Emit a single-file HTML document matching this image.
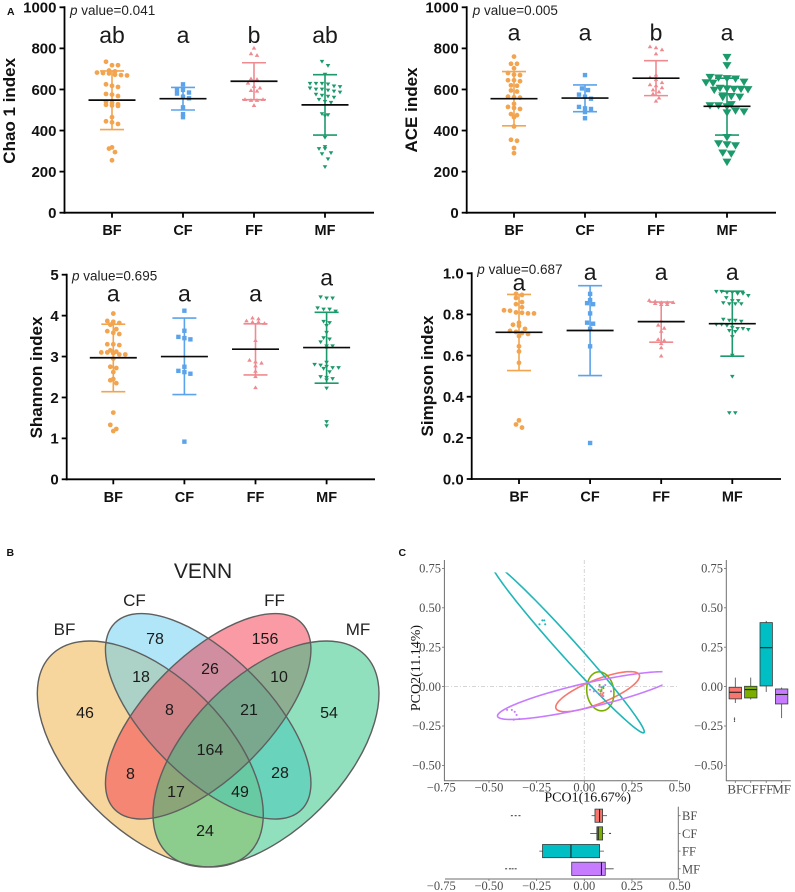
<!DOCTYPE html>
<html lang="en">
<head>
<meta charset="utf-8">
<title>Microbial diversity, Venn and PCoA figure</title>
<style>
html,body{margin:0;padding:0;background:#fff;}
svg{display:block;}
.sans{font-family:"Liberation Sans",sans-serif;}
.serif{font-family:"Liberation Serif",serif;}
</style>
</head>
<body>
<svg id="fig" width="795" height="892" viewBox="0 0 795 892" xmlns="http://www.w3.org/2000/svg">
  <rect width="795" height="892" fill="#fff"/>
  <text class="sans" x="7" y="15" font-size="10.5" font-weight="bold" fill="#111">A</text>
  <text class="sans" x="6.5" y="556" font-size="10.5" font-weight="bold" fill="#111">B</text>
  <text class="sans" x="398.5" y="556" font-size="10.5" font-weight="bold" fill="#111">C</text>

  <g id="alpha-panels"></g>

  <g id="venn">
    <text class="sans" x="203" y="578" font-size="21" text-anchor="middle" fill="#222">VENN</text>
    <g fill-opacity="0.5">
      <ellipse cx="150.3" cy="754" rx="140" ry="77" transform="rotate(45 150.3 754)" fill="#EDAD39"/>
      <ellipse cx="208.2" cy="716.3" rx="132" ry="60.7" transform="rotate(45 208.2 716.3)" fill="#61CDF1"/>
      <ellipse cx="208.2" cy="716.3" rx="132" ry="60.7" transform="rotate(-45 208.2 716.3)" fill="#F33549"/>
      <ellipse cx="266" cy="754" rx="140" ry="77" transform="rotate(-45 266 754)" fill="#21C17D"/>
    </g>
    <g fill="none" stroke="#5f5f5f" stroke-width="1.4">
      <ellipse cx="150.3" cy="754" rx="140" ry="77" transform="rotate(45 150.3 754)"/>
      <ellipse cx="208.2" cy="716.3" rx="132" ry="60.7" transform="rotate(45 208.2 716.3)"/>
      <ellipse cx="208.2" cy="716.3" rx="132" ry="60.7" transform="rotate(-45 208.2 716.3)"/>
      <ellipse cx="266" cy="754" rx="140" ry="77" transform="rotate(-45 266 754)"/>
    </g>
    <g class="sans" font-size="17" text-anchor="middle" fill="#222">
      <text x="134.5" y="606">CF</text>
      <text x="274.5" y="606">FF</text>
      <text x="64.5" y="635">BF</text>
      <text x="358" y="635">MF</text>
    </g>
    <g class="sans" font-size="16" text-anchor="middle" fill="#1a1a1a">
      <text x="155" y="644">78</text>
      <text x="265" y="644">156</text>
      <text x="85" y="718">46</text>
      <text x="141" y="682">18</text>
      <text x="210" y="674">26</text>
      <text x="279" y="682">10</text>
      <text x="329" y="718">54</text>
      <text x="169.5" y="715">8</text>
      <text x="249" y="715">21</text>
      <text x="210" y="755">164</text>
      <text x="130.5" y="779">8</text>
      <text x="280" y="778">28</text>
      <text x="176" y="797">17</text>
      <text x="240" y="797">49</text>
      <text x="205" y="836">24</text>
    </g>
  </g>

  <g id="pcoa"></g>
</svg>

<script>
/* ---------- Alpha-diversity data ---------- */
const categories = ['BF', 'CF', 'FF', 'MF'];

const chaoBF = [735,718,718,692,688,682,680,678,672,670,668,625,618,612,578,575,568,540,535,528,525,522,520,465,445,440,432,318,312,295,255];
const chaoCF = [625,600,598,585,580,565,557,513,480,465];
const chaoFF = [803,776,768,654,651,633,617,609,597,594,553,549,549,553,524];
const chaoMF = [735,715,672,628,628,628,625,615,612,605,600,600,595,590,585,575,570,565,560,550,540,535,480,475,470,365,320,310,310,290,285,260,222];
const chaoMeans = [548, 555, 640, 525];
const chaoLows = [405, 500, 550, 378];
const chaoHighs = [690, 610, 730, 672];
const chaoLetters = ['ab', 'a', 'b', 'ab'];
const chaoTicks = ['0', '200', '400', '600', '800', '1000'];

const aceBF = [760,725,725,703,680,672,670,645,645,640,620,618,595,590,565,562,560,530,515,510,505,480,475,465,420,355,350,315,290];
const aceCF = [670,605,597,575,565,555,515,508,505,490,460];
const aceFF = [810,805,795,775,672,660,650,635,625,620,610,600,590,580,560,545];
const aceMF = [755,715,658,655,652,650,635,632,630,605,602,600,600,598,595,568,565,562,560,525,520,520,515,495,490,485,365,335,330,325,290,285,245];
const aceMeans = [555, 558, 655, 518];
const aceLows = [423, 492, 570, 378];
const aceHighs = [687, 622, 740, 655];
const aceLetters = ['a', 'a', 'b', 'a'];
const aceTicks = ['0', '200', '400', '600', '800', '1000'];

const shannonBF = [4.05,3.87,3.85,3.82,3.78,3.67,3.62,3.58,3.55,3.3,3.3,3.28,3.15,3.12,3.1,3.1,3.08,3.05,3.05,2.95,2.75,2.72,2.62,2.45,2.42,2.35,1.63,1.33,1.23,1.18];
const shannonCF = [4.12,3.63,3.48,3.45,3.42,2.75,2.65,2.62,2.58,0.92];
const shannonFF = [3.95,3.93,3.88,3.85,3.85,3.82,3.4,2.92,2.88,2.85,2.78,2.65,2.52,2.25];
const shannonMF = [4.45,4.42,4.42,4.18,4.15,4.15,4.1,3.85,3.82,3.75,3.58,3.45,3.42,3.35,3.25,3.25,3.2,2.85,2.8,2.78,2.75,2.72,2.72,2.7,2.62,2.5,2.48,2.45,2.42,2.22,1.4,1.3];
const shannonMeans = [2.97, 3.0, 3.18, 3.22];
const shannonLows = [2.14, 2.07, 2.55, 2.35];
const shannonHighs = [3.79, 3.94, 3.8, 4.08];
const shannonLetters = ['a', 'a', 'a', 'a'];
const shannonTicks = ['0', '1', '2', '3', '4', '5'];

const simpsonBF = [0.9,0.895,0.88,0.86,0.85,0.835,0.82,0.818,0.81,0.808,0.805,0.805,0.76,0.75,0.745,0.73,0.72,0.715,0.71,0.705,0.695,0.645,0.62,0.565,0.285,0.265,0.25];
const simpsonCF = [0.9,0.87,0.855,0.85,0.805,0.76,0.755,0.73,0.645,0.175];
const simpsonFF = [0.87,0.865,0.86,0.86,0.86,0.855,0.85,0.85,0.77,0.75,0.735,0.72,0.68,0.675,0.66,0.64,0.6];
const simpsonMF = [0.91,0.91,0.905,0.905,0.9,0.9,0.89,0.88,0.865,0.865,0.855,0.85,0.85,0.85,0.775,0.77,0.77,0.765,0.75,0.75,0.745,0.735,0.73,0.73,0.725,0.72,0.715,0.69,0.6,0.497,0.32,0.32];
const simpsonMeans = [0.713, 0.722, 0.765, 0.755];
const simpsonLows = [0.527, 0.503, 0.665, 0.597];
const simpsonHighs = [0.897, 0.94, 0.86, 0.913];
const simpsonLetters = ['a', 'a', 'a', 'a'];
const simpsonTicks = ['0.0', '0.2', '0.4', '0.6', '0.8', '1.0'];

/* ---------- PCoA data (data units) ---------- */
const pcoGroups = ['BF', 'CF', 'FF', 'MF'];
const pcoXTicks = ['\u22120.75', '\u22120.50', '\u22120.25', '0.00', '0.25', '0.50'];
const pcoXTickValues = [-0.75, -0.5, -0.25, 0, 0.25, 0.5];
const pcoYTicks = ['\u22120.50', '\u22120.25', '0.00', '0.25', '0.50', '0.75'];
const pcoYTickValues = [-0.5, -0.25, 0, 0.25, 0.5, 0.75];

/* ellipses: centre, major semi-axis vector, minor semi-axis vector */
const ellipseCenterX = [0.07, 0.084, -0.087, 0.012];
const ellipseCenterY = [-0.032, -0.03, 0.246, -0.057];
const ellipseMajorX = [0.2185, 0.014, 0.4, 0.467];
const ellipseMajorY = [0.106, -0.123, -0.538, 0.131];
const ellipseMinorX = [0.0227, 0.07, 0.035, 0.014];
const ellipseMinorY = [-0.07, 0.0127, 0.038, -0.076];

const scoresBFx = [0.09,0.095,0.085,0.1,0.09];
const scoresBFy = [-0.03,-0.05,-0.045,-0.04,-0.06];
const scoresCFx = [0.08,0.09,0.1,0.085,0.075];
const scoresCFy = [0.01,-0.005,-0.01,-0.03,-0.02];
const scoresFFx = [-0.235,-0.22,-0.21,-0.205,0.09,0.1];
const scoresFFy = [0.395,0.42,0.42,0.395,-0.02,0.0];
const scoresMFx = [-0.405,-0.38,-0.365,-0.355,-0.37,-0.34,0.03,0.05,0.08,0.11,0.14,0.1,0.07];
const scoresMFy = [-0.148,-0.148,-0.16,-0.18,-0.21,-0.205,-0.02,-0.03,0.0,0.01,-0.03,-0.06,-0.04];

/* box plot on PCO2 (right) */
const pco2Q1 = [-0.078, -0.072, 0.004, -0.11];
const pco2Median = [-0.036, -0.019, 0.247, -0.05];
const pco2Q3 = [-0.004, 0.002, 0.406, -0.015];
const pco2WhiskerLow = [-0.104, -0.082, -0.034, -0.2];
const pco2WhiskerHigh = [0.057, 0.057, 0.417, -0.006];
const pco2Outliers = [[-0.2, -0.21, -0.22], [], [], []];

/* box plot on PCO1 (bottom) */
const pco1Q1 = [0.056, 0.066, -0.219, -0.066];
const pco1Median = [0.08, 0.073, -0.07, 0.09];
const pco1Q3 = [0.096, 0.096, 0.08, 0.11];
const pco1WhiskerLow = [0.038, 0.031, -0.236, -0.066];
const pco1WhiskerHigh = [0.119, 0.107, 0.103, 0.154];
const pco1Outliers = [[-0.38, -0.36, -0.34], [0.135], [], [-0.41, -0.39, -0.376, -0.36]];

/* ---------- helpers ---------- */
const NS = 'http://www.w3.org/2000/svg';
function mk(parent, tag, attrs, name) {
  const el = document.createElementNS(NS, tag);
  for (const k in attrs) el.setAttribute(k, attrs[k]);
  
  
  parent.appendChild(el);
  return el;
}
function label(parent, x, y, str, attrs, name) {
  const el = mk(parent, 'text', Object.assign({ x: x, y: y }, attrs), name);
  el.textContent = str;
  return el;
}
function ln(parent, x1, y1, x2, y2, stroke, w, name) {
  return mk(parent, 'line', { x1: x1, y1: y1, x2: x2, y2: y2, stroke: stroke, 'stroke-width': w }, name);
}

const seriesColors = ['#F2A44F', '#5BA3EA', '#EE8B91', '#1D9A6C'];

function marker(parent, kind, x, y, s, color, name) {
  if (kind === 0) return mk(parent, 'circle', { cx: x, cy: y, r: s * 0.52, fill: color }, name);
  if (kind === 1) return mk(parent, 'rect', { x: x - s * 0.5, y: y - s * 0.5, width: s, height: s, fill: color }, name);
  const h = s * 0.82;
  const d = kind === 2 ? 1 : -1;
  const pts = (x - s / 2) + ',' + (y + d * h / 2) + ' ' + (x + s / 2) + ',' + (y + d * h / 2) + ' ' + x + ',' + (y - d * h / 2);
  return mk(parent, 'polygon', { points: pts, fill: color }, name);
}

/* Swarm layout: points falling in the same vertical bin spread symmetrically. */
function swarm(values, yOf, binH, sp, maxSpread) {
  const bins = {};
  const offsets = new Array(values.length);
  values.forEach(function (v, i) {
    const b = Math.floor(yOf(v) / binH);
    (bins[b] = bins[b] || []).push(i);
  });
  Object.keys(bins).forEach(function (b) {
    const ids = bins[b];
    const n = ids.length;
    const step = n > 1 ? Math.min(sp, 2 * maxSpread / (n - 1)) : 0;
    ids.forEach(function (id, k) {
      offsets[id] = (k - (n - 1) / 2) * step;
    });
  });
  return offsets;
}

/* ---------- alpha-diversity panels ---------- */
const panels = [
  { key: 'chao', title: 'Chao 1 index', p: '0.041', series: [chaoBF, chaoCF, chaoFF, chaoMF], means: chaoMeans, lows: chaoLows, highs: chaoHighs, letters: chaoLetters, ticks: chaoTicks,
    maxV: 1000, ax: 64.5, y0: 212.7, yTop: 7.3, xEnd: 374, cx0: 112, dx: 71, titleX: 15, titleY: 110.8, pX: 70, pY: 15, letterY: [43, 43, 43, 43], sizes: [4.6, 4.4, 4.6, 4.6] },
  { key: 'ace', title: 'ACE index', p: '0.005', series: [aceBF, aceCF, aceFF, aceMF], means: aceMeans, lows: aceLows, highs: aceHighs, letters: aceLetters, ticks: aceTicks,
    maxV: 1000, ax: 466.7, y0: 212.7, yTop: 7.3, xEnd: 776, cx0: 514, dx: 71, titleX: 417, titleY: 110, pX: 472.7, pY: 15, letterY: [40.7, 40.7, 40.7, 40.7], sizes: [4.6, 4.4, 4.6, 9] },
  { key: 'shannon', title: 'Shannon index', p: '0.695', series: [shannonBF, shannonCF, shannonFF, shannonMF], means: shannonMeans, lows: shannonLows, highs: shannonHighs, letters: shannonLetters, ticks: shannonTicks,
    maxV: 5, ax: 66.7, y0: 479.3, yTop: 274.7, xEnd: 375, cx0: 113.3, dx: 71.1, titleX: 42, titleY: 377.5, pX: 72, pY: 280.7, letterY: [301.7, 301.7, 301.7, 285.7], sizes: [4.6, 4.4, 4.6, 4.6] },
  { key: 'simpson', title: 'Simpson index', p: '0.687', series: [simpsonBF, simpsonCF, simpsonFF, simpsonMF], means: simpsonMeans, lows: simpsonLows, highs: simpsonHighs, letters: simpsonLetters, ticks: simpsonTicks,
    maxV: 1, ax: 471.7, y0: 479, yTop: 273.3, xEnd: 781, cx0: 519, dx: 71.1, titleX: 433, titleY: 376, pX: 477.3, pY: 274, letterY: [290.7, 280, 280, 280], sizes: [4.6, 4.4, 4.6, 4.6] }
];

const alphaRoot = document.getElementById('alpha-panels');
panels.forEach(function (P) {
  const g = mk(alphaRoot, 'g', {}, P.key + '-panel');
  const yOf = function (v) { return P.y0 - (v / P.maxV) * (P.y0 - P.yTop); };
  const xOf = function (i) { return P.cx0 + i * P.dx; };

  /* series */
  P.series.forEach(function (vals, i) {
    const color = seriesColors[i];
    const s = mk(g, 'g', {}, P.key + '-series-' + categories[i].toLowerCase());
    const x = xOf(i);
    ln(s, x, yOf(P.lows[i]), x, yOf(P.highs[i]), color, 1.6, 'error-bar');
    ln(s, x - 12, yOf(P.lows[i]), x + 12, yOf(P.lows[i]), color, 1.6, 'error-cap-low');
    ln(s, x - 12, yOf(P.highs[i]), x + 12, yOf(P.highs[i]), color, 1.6, 'error-cap-high');
    const big = P.sizes[i] > 6;
    const offs = swarm(vals, yOf, big ? 7.5 : 5.5, big ? 8.5 : 6, big ? 21 : 16);
    vals.forEach(function (v, k) {
      marker(s, i, x + offs[k], yOf(v), P.sizes[i], color, 'data-point');
    });
    ln(s, x - 23.5, yOf(P.means[i]), x + 23.5, yOf(P.means[i]), '#0a0a0a', 1.7, 'mean-line');
    label(s, x, P.letterY[i], P.letters[i], { class: 'sans', 'font-size': 23, 'text-anchor': 'middle', fill: '#1a1a1a' }, 'significance-letter');
  });

  /* axes */
  ln(g, P.ax, P.yTop - 1, P.ax, P.y0 + 1, '#000', 1.8, 'y-axis');
  ln(g, P.ax - 1, P.y0, P.xEnd, P.y0, '#000', 1.8, 'x-axis');
  P.ticks.forEach(function (t) {
    const y = yOf(parseFloat(t));
    ln(g, P.ax - 5, y, P.ax, y, '#000', 1.8, 'y-tick');
    label(g, P.ax - 8, y + 5.3, t, { class: 'sans', 'font-size': 15, 'font-weight': 'bold', 'text-anchor': 'end', fill: '#111' }, 'y-tick-label');
  });
  categories.forEach(function (c, i) {
    ln(g, xOf(i), P.y0, xOf(i), P.y0 + 5, '#000', 1.8, 'x-tick');
    label(g, xOf(i), P.y0 + 22.5, c, { class: 'sans', 'font-size': 14.5, 'font-weight': 'bold', 'text-anchor': 'middle', fill: '#111' }, 'x-tick-label');
  });
  label(g, P.titleX, P.titleY, P.title, { class: 'sans', 'font-size': 17, 'font-weight': 'bold', 'text-anchor': 'middle', fill: '#111', transform: 'rotate(-90 ' + P.titleX + ' ' + P.titleY + ')' }, 'y-axis-title');
  const pt = mk(g, 'text', { x: P.pX, y: P.pY, class: 'sans', 'font-size': 13.5, fill: '#222' }, 'p-value-label');
  const it = mk(pt, 'tspan', { 'font-style': 'italic' }, 'p-symbol');
  it.textContent = 'p';
  const rest = mk(pt, 'tspan', {}, 'p-value-text');
  rest.textContent = ' value=' + P.p;
});

/* ---------- PCoA ---------- */
const pcoaRoot = document.getElementById('pcoa');
const groupColors = ['#F8766D', '#7CAE00', '#1FB6B8', '#C77CFF'];
const boxFills = ['#F8766D', '#7CAE00', '#00BFC4', '#C77CFF'];
const serifGrey = '#4d4d4d';
const sx = function (v) { return 584.3 + v * 190.7; };
const sy = function (v) { return 686.6 - v * 157.6; };

const defs = mk(pcoaRoot, 'defs', {}, 'pcoa-defs');
const clip = mk(defs, 'clipPath', { id: 'pco-clip' }, 'pcoa-clip');
mk(clip, 'rect', { x: 444.5, y: sy(0.725), width: sx(0.41) - 444.5, height: 780 - sy(0.725) }, 'pcoa-clip-rect');

const main = mk(pcoaRoot, 'g', {}, 'pcoa-scatter');
ln(main, sx(0), 560, sx(0), 780, '#cfcfcf', 0.9, 'zero-line-vertical').setAttribute('stroke-dasharray', '4 2 1 2');
ln(main, 445, sy(0), 678, sy(0), '#cfcfcf', 0.9, 'zero-line-horizontal').setAttribute('stroke-dasharray', '4 2 1 2');

const ellGroup = mk(main, 'g', { 'clip-path': 'url(#pco-clip)', fill: 'none', 'stroke-width': 1.6 }, 'ellipses');
pcoGroups.forEach(function (g, i) {
  let d = '';
  for (let k = 0; k <= 120; k++) {
    const t = k / 120 * 2 * Math.PI;
    const vx = ellipseCenterX[i] + ellipseMajorX[i] * Math.cos(t) + ellipseMinorX[i] * Math.sin(t);
    const vy = ellipseCenterY[i] + ellipseMajorY[i] * Math.cos(t) + ellipseMinorY[i] * Math.sin(t);
    d += (k ? 'L' : 'M') + sx(vx).toFixed(2) + ' ' + sy(vy).toFixed(2);
  }
  mk(ellGroup, 'path', { d: d + 'Z', stroke: groupColors[i] }, 'ellipse-' + g.toLowerCase());
});

const allScoresX = [scoresBFx, scoresCFx, scoresFFx, scoresMFx];
const allScoresY = [scoresBFy, scoresCFy, scoresFFy, scoresMFy];
allScoresX.forEach(function (xs, i) {
  xs.forEach(function (v, k) {
    mk(main, 'circle', { cx: sx(v), cy: sy(allScoresY[i][k]), r: 1.05, fill: groupColors[i] }, 'score-point');
  });
});

const cAxis = '#6e6e6e';
ln(main, 444.4, 560, 444.4, 781, cAxis, 1, 'pco2-axis');
ln(main, 444, 780.7, 678, 780.7, cAxis, 1, 'pco1-axis');
pcoYTickValues.forEach(function (v, i) {
  ln(main, 442, sy(v), 444.4, sy(v), cAxis, 0.8, 'y-tick');
  label(main, 441, sy(v) + 4.2, pcoYTicks[i], { class: 'serif', 'font-size': 12.5, 'text-anchor': 'end', fill: serifGrey }, 'y-tick-label');
});
pcoXTickValues.forEach(function (v, i) {
  if (v > -0.75) ln(main, sx(v), 780.7, sx(v), 783, cAxis, 0.8, 'x-tick');
  label(main, sx(v), 791.7, pcoXTicks[i], { class: 'serif', 'font-size': 12.5, 'text-anchor': 'middle', fill: serifGrey }, 'x-tick-label');
});
label(main, 587.7, 801.5, 'PCO1(16.67%)', { class: 'serif', 'font-size': 14, 'text-anchor': 'middle', fill: '#111' }, 'x-axis-title');
label(main, 420, 668, 'PCO2(11.14%)', { class: 'serif', 'font-size': 14, 'text-anchor': 'middle', fill: '#111', transform: 'rotate(-90 420 668)' }, 'y-axis-title');

/* right box plot */
const rightBox = mk(pcoaRoot, 'g', {}, 'pco2-boxplot');
const rx = function (i) { return 735.3 + i * 15.45; };
pcoGroups.forEach(function (g, i) {
  const x = rx(i);
  ln(rightBox, x, sy(pco2WhiskerLow[i]), x, sy(pco2WhiskerHigh[i]), '#444', 0.8, 'whisker');
  mk(rightBox, 'rect', { x: x - 6.2, y: sy(pco2Q3[i]), width: 12.4, height: sy(pco2Q1[i]) - sy(pco2Q3[i]), fill: boxFills[i], stroke: '#2f3b3b', 'stroke-width': 0.8 }, 'box-' + g.toLowerCase());
  ln(rightBox, x - 6.2, sy(pco2Median[i]), x + 6.2, sy(pco2Median[i]), '#222', 1.1, 'median');
  pco2Outliers[i].forEach(function (v) {
    mk(rightBox, 'circle', { cx: x - 0.8, cy: sy(v), r: 0.6, fill: '#222' }, 'outlier');
  });
  ln(rightBox, x, 780.7, x, 783, cAxis, 0.8, 'x-tick');
  label(rightBox, x, 793.5, g, { class: 'serif', 'font-size': 13, 'text-anchor': 'middle', fill: serifGrey }, 'x-tick-label');
});
ln(rightBox, 726.3, 560, 726.3, 781, cAxis, 1, 'box-y-axis');
ln(rightBox, 726, 780.7, 790.7, 780.7, cAxis, 1, 'box-x-axis');
pcoYTickValues.forEach(function (v, i) {
  ln(rightBox, 724, sy(v), 726.3, sy(v), cAxis, 0.8, 'y-tick');
  label(rightBox, 723, sy(v) + 4.2, pcoYTicks[i], { class: 'serif', 'font-size': 12.5, 'text-anchor': 'end', fill: serifGrey }, 'y-tick-label');
});

/* bottom box plot */
const bottomBox = mk(pcoaRoot, 'g', {}, 'pco1-boxplot');
const by = function (i) { return 815.7 + i * 17.7; };
pcoGroups.forEach(function (g, i) {
  const y = by(i);
  ln(bottomBox, sx(pco1WhiskerLow[i]), y, sx(pco1WhiskerHigh[i]), y, '#444', 0.8, 'whisker');
  mk(bottomBox, 'rect', { x: sx(pco1Q1[i]), y: y - 6.6, width: sx(pco1Q3[i]) - sx(pco1Q1[i]), height: 13.2, fill: boxFills[i], stroke: '#2f3b3b', 'stroke-width': 0.8 }, 'box-' + g.toLowerCase());
  ln(bottomBox, sx(pco1Median[i]), y - 6.6, sx(pco1Median[i]), y + 6.6, '#222', 1.1, 'median');
  pco1Outliers[i].forEach(function (v) {
    mk(bottomBox, 'rect', { x: sx(v) - 1, y: y - 0.5, width: 2, height: 1, fill: '#333' }, 'outlier');
  });
  ln(bottomBox, 678.3, y, 680.6, y, cAxis, 0.8, 'y-tick');
  label(bottomBox, 682, y + 4.5, g, { class: 'serif', 'font-size': 12.5, fill: serifGrey }, 'y-tick-label');
});
ln(bottomBox, 678.3, 806.7, 678.3, 879.5, cAxis, 1, 'box-y-axis');
ln(bottomBox, 445, 879, 678.8, 879, cAxis, 1, 'box-x-axis');
pcoXTickValues.forEach(function (v, i) {
  if (v > -0.75) ln(bottomBox, sx(v), 879, sx(v), 881, cAxis, 0.8, 'x-tick');
  label(bottomBox, sx(v), 890, pcoXTicks[i], { class: 'serif', 'font-size': 12.5, 'text-anchor': 'middle', fill: serifGrey }, 'x-tick-label');
});
</script>
</body>
</html>
